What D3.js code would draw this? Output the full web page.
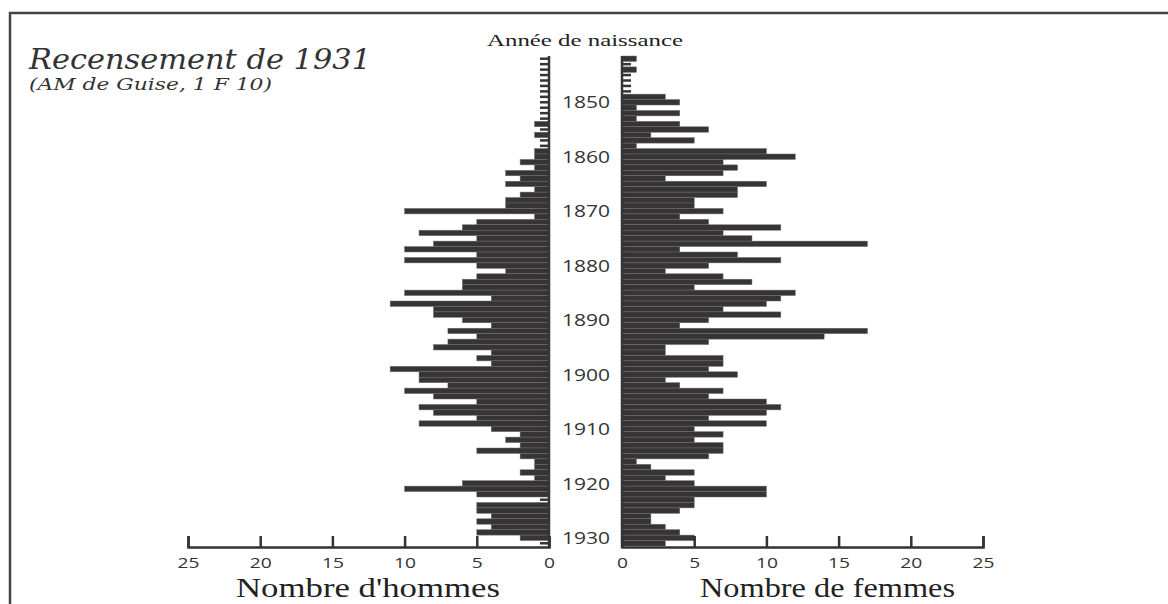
<!DOCTYPE html>
<html>
<head>
<meta charset="utf-8">
<script src="https://d3js.org/d3.v7.min.js"></script>
<style>
  body { margin: 0; background: #fff; }
  svg { display: block; }
</style>
</head>
<body>
<svg id="pyramide" width="1168" height="604"></svg>
<script>
// Recensement de 1931 - pyramide des ages (annee de naissance)

var annees = d3.range(1842, 1932);

var hommes = [
  0,0,0,0,0,0,0,0,0,0, 0,0,1,0,1,0,0,1,1,2,
  1,3,2,3,1,2,3,3,10,1, 5,6,9,5,8,10,5,10,5,3,
  5,6,6,10,4,11,8,8,6,4, 7,5,7,8,4,5,4,11,9,9,
  7,10,8,5,9,8,5,9,4,2, 3,2,5,2,1,1,2,1,6,10,
  5,0,5,5,4,5,4,5,2,0
];

var femmes = [
  1,0,1,0,0,0,0,3,4,1, 4,1,4,6,2,5,1,10,12,7,
  8,7,3,10,8,8,5,5,7,4, 6,11,7,9,17,4,8,11,6,3,
  7,9,5,12,11,10,7,11,6,4, 17,14,6,3,3,7,7,6,8,3,
  4,7,6,10,11,10,6,10,5,7, 5,7,7,6,1,2,5,3,5,10,
  10,5,5,4,2,2,3,4,5,3
];

var graduations = [0, 5, 10, 15, 20, 25];
var etiquettesAnnees = [1850, 1860, 1870, 1880, 1890, 1900, 1910, 1920, 1930];

var svg = d3.select("#pyramide");
var couleur = "#363435";

var y = d3.scaleBand().domain(annees).range([56, 546]).padding(0);
var xH = d3.scaleLinear().domain([0, 25]).range([549, 188]);
var xF = d3.scaleLinear().domain([0, 25]).range([622, 983]);

// cadre
svg.append("rect")
   .attr("x", 10).attr("y", 13)
   .attr("width", 1200).attr("height", 640)
   .attr("fill", "none").attr("stroke", "#444").attr("stroke-width", 2.5);

// barres hommes
svg.append("g").selectAll("rect")
   .data(annees).enter().append("rect")
   .attr("x", function(d, i) { return xH(hommes[i]); })
   .attr("y", function(d) { return y(d); })
   .attr("width", function(d, i) { return xH(0) - xH(hommes[i]); })
   .attr("height", y.bandwidth())
   .attr("fill", couleur)
   .attr("stroke", "#6e6e6e").attr("stroke-width", 0.5);

// barres femmes
svg.append("g").selectAll("rect")
   .data(annees).enter().append("rect")
   .attr("x", xF(0))
   .attr("y", function(d) { return y(d); })
   .attr("width", function(d, i) { return xF(femmes[i]) - xF(0); })
   .attr("height", y.bandwidth())
   .attr("fill", couleur)
   .attr("stroke", "#6e6e6e").attr("stroke-width", 0.5);

// petites graduations annuelles le long des axes verticaux
svg.append("g").selectAll("line")
   .data(annees).enter().append("line")
   .attr("x1", xH(0)).attr("x2", xH(0) - 9)
   .attr("y1", function(d) { return y(d) + y.bandwidth() / 2; })
   .attr("y2", function(d) { return y(d) + y.bandwidth() / 2; })
   .attr("stroke", couleur).attr("stroke-width", 2.5);
svg.append("g").selectAll("line")
   .data(annees).enter().append("line")
   .attr("x1", xF(0)).attr("x2", xF(0) + 9)
   .attr("y1", function(d) { return y(d) + y.bandwidth() / 2; })
   .attr("y2", function(d) { return y(d) + y.bandwidth() / 2; })
   .attr("stroke", couleur).attr("stroke-width", 2.5);

// axes verticaux
[xH(0), xF(0)].forEach(function(x0) {
  svg.append("line")
     .attr("x1", x0).attr("x2", x0)
     .attr("y1", 56).attr("y2", 548)
     .attr("stroke", couleur).attr("stroke-width", 2.5);
});

// axes horizontaux
function axe(scale) {
  var g = svg.append("g")
     .attr("transform", "translate(0,547)")
     .call(d3.axisBottom(scale).tickValues(graduations)
           .tickSize(-11).tickSizeOuter(-11).tickPadding(10));
  g.select(".domain").attr("stroke", "#333").attr("stroke-width", 2.5);
  g.selectAll(".tick line").attr("stroke", "#333").attr("stroke-width", 2.5);
  g.selectAll(".tick text")
   .attr("fill", "#333")
   .attr("textLength", function(d) { return String(d).length * 11; })
   .attr("lengthAdjust", "spacingAndGlyphs")
   .style("font-family", "'Open Sans', sans-serif")
   .style("font-size", "15px");
}
axe(xH);
axe(xF);

// annees au centre
svg.append("g").selectAll("text")
   .data(etiquettesAnnees).enter().append("text")
   .attr("x", 586)
   .attr("y", function(d) { return y(d) + y.bandwidth() / 2; })
   .attr("dy", "0.36em")
   .attr("text-anchor", "middle")
   .attr("textLength", 48).attr("lengthAdjust", "spacingAndGlyphs")
   .style("font-family", "'Open Sans', sans-serif")
   .style("font-size", "17px")
   .attr("fill", "#333")
   .text(function(d) { return d; });

// textes
function texte(t, x, yy, size, w, opts) {
  var el = svg.append("text")
     .attr("x", x).attr("y", yy)
     .attr("textLength", w).attr("lengthAdjust", "spacingAndGlyphs")
     .style("font-family", opts.family)
     .style("font-size", size + "px")
     .style("font-style", opts.italic ? "italic" : "normal")
     .attr("fill", opts.fill || "#222")
     .text(t);
  return el;
}
texte("Recensement de 1931", 29, 69, 27, 342, { family: "'DejaVu Serif', serif", italic: true, fill: "#333" });
texte("(AM de Guise, 1 F 10)", 29, 90, 17, 243, { family: "'DejaVu Serif', serif", italic: true, fill: "#333" });
texte("Année de naissance", 487, 46, 17, 196, { family: "'Liberation Serif', serif" });
texte("Nombre d'hommes", 236, 597, 27, 264, { family: "'Liberation Serif', serif" });
texte("Nombre de femmes", 700, 597, 27, 255, { family: "'Liberation Serif', serif" });
</script>
</body>
</html>
